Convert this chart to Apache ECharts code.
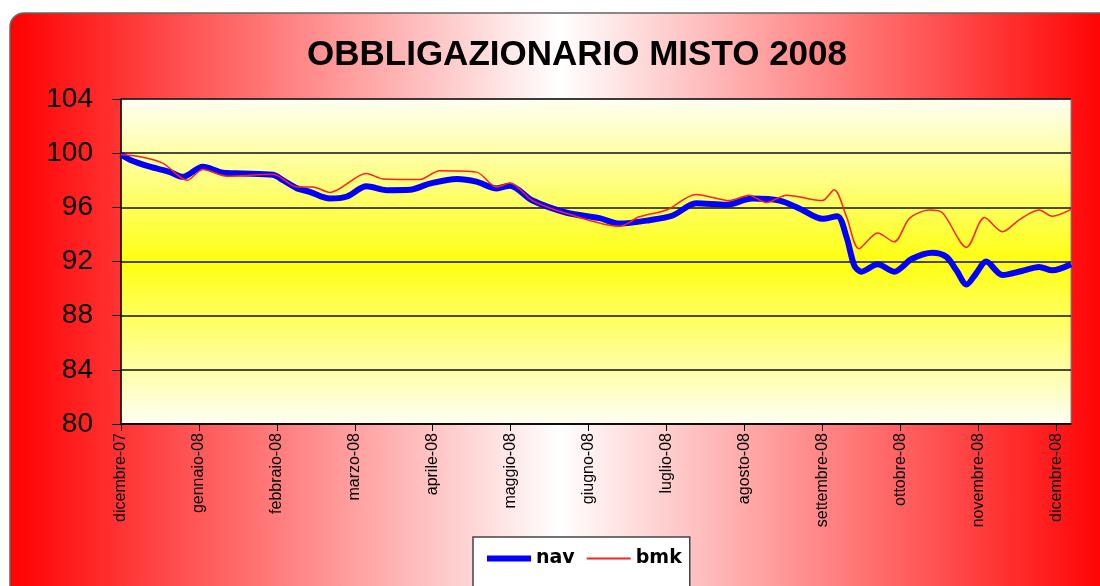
<!DOCTYPE html>
<html lang="it">
<head>
    <meta charset="UTF-8">
    <title>Obbligazionario Misto 2008</title>
    <script src="https://cdn.jsdelivr.net/npm/echarts@6/dist/echarts.min.js"></script>
    <style>
        html, body { margin: 0; padding: 0; background: #fff; }
        #fig1 { width: 1100px; height: 586px; }
    </style>
</head>
<body>
    <div id="fig1"></div>
    <script>
        // etichette mesi (asse x)
        let mesi = ['dicembre-07', 'gennaio-08', 'febbraio-08', 'marzo-08', 'aprile-08', 'maggio-08',
            'giugno-08', 'luglio-08', 'agosto-08', 'settembre-08', 'ottobre-08', 'novembre-08', 'dicembre-08'];

        // nav: posizione in mesi da dic-07, valore
        let navX = [0, 0.12, 0.37, 0.63, 0.79, 1.05, 1.31, 1.56, 1.95, 2.08, 2.26, 2.42, 2.68, 2.90,
            3.15, 3.41, 3.71, 3.96, 4.31, 4.56, 4.82, 4.99, 5.28, 5.72, 6.14, 6.40, 6.78, 7.08, 7.38,
            7.77, 8.10, 8.45, 8.71, 9.00, 9.19, 9.31, 9.41, 9.50, 9.71, 9.92, 10.15, 10.41, 10.59,
            10.72, 10.85, 10.97, 11.10, 11.31, 11.56, 11.78, 11.95, 12.19];
        let navY = [99.9, 99.5, 99.0, 98.6, 98.25, 99.0, 98.55, 98.5, 98.4, 98.0, 97.4, 97.15, 96.65, 96.8,
            97.55, 97.27, 97.3, 97.75, 98.1, 97.9, 97.4, 97.6, 96.5, 95.6, 95.2, 94.8, 95.05, 95.4, 96.3,
            96.2, 96.65, 96.5, 95.9, 95.15, 95.35, 93.8, 91.7, 91.25, 91.8, 91.25, 92.2, 92.65, 92.35,
            91.35, 90.3, 91.1, 92.0, 91.0, 91.3, 91.6, 91.35, 91.8];

        // bmk
        let bmkX = [0, 0.28, 0.54, 0.85, 1.05, 1.36, 1.95, 2.26, 2.46, 2.68, 3.15, 3.36, 3.83, 4.09,
            4.56, 4.82, 4.99, 5.28, 5.72, 6.40, 6.65, 7.00, 7.38, 7.81, 8.06, 8.28, 8.54, 9.00, 9.15,
            9.31, 9.47, 9.71, 9.92, 10.12, 10.37, 10.54, 10.85, 11.08, 11.31, 11.53, 11.78, 11.95, 12.19];
        let bmkY = [99.9, 99.7, 99.25, 98.0, 98.8, 98.3, 98.45, 97.5, 97.5, 97.1, 98.5, 98.1, 98.05, 98.7,
            98.6, 97.5, 97.8, 96.5, 95.55, 94.6, 95.3, 95.8, 96.95, 96.5, 96.9, 96.35, 96.9, 96.5, 97.3,
            95.3, 92.95, 94.1, 93.45, 95.2, 95.8, 95.6, 93.05, 95.25, 94.2, 95.1, 95.8, 95.35, 95.85];

        let yTicks = [80, 84, 88, 92, 96, 100, 104];

        function coppie (xs, ys) {
            return xs.map((x, i) => [x, ys[i]]);
        }

        let fig1 = echarts.init(document.getElementById('fig1'), null, {renderer: 'canvas'});

        let option = {
            animation: false,
            backgroundColor: '#fff',
            textStyle: { fontFamily: 'Liberation Sans, Arial, sans-serif' },
            graphic: [{
                type: 'rect',
                z: -10,
                silent: true,
                shape: { x: 10, y: 13, width: 1100, height: 590, r: [14, 0, 0, 0] },
                style: {
                    fill: new echarts.graphic.LinearGradient(0, 0, 1, 0, [
                        { offset: 0, color: '#ff0000' },
                        { offset: 0.5, color: '#ffffff' },
                        { offset: 1, color: '#ff0000' }
                    ]),
                    stroke: '#666',
                    lineWidth: 1.5
                }
            }],
            title: {
                text: 'OBBLIGAZIONARIO MISTO 2008',
                left: 572,
                textAlign: 'center',
                top: 33,
                textStyle: {
                    fontSize: 35,
                    fontWeight: 'bold',
                    color: '#000',
                    fontFamily: 'Liberation Sans, Arial, sans-serif'
                }
            },
            grid: {
                left: 121,
                right: 29,
                top: 99,
                bottom: 162,
                show: true,
                borderColor: '#808080',
                borderWidth: 1,
                backgroundColor: new echarts.graphic.LinearGradient(0, 0, 0, 1, [
                    { offset: 0, color: '#fffff4' },
                    { offset: 0.5, color: '#ffff10' },
                    { offset: 1, color: '#fffff4' }
                ])
            },
            legend: {
                left: 473,
                top: 537,
                data: [
                    { name: 'nav', icon: 'path://M0,0H44V6H0Z' },
                    { name: 'bmk', icon: 'path://M0,0H44V2H0Z' }
                ],
                itemWidth: 44,
                itemHeight: 14,
                itemGap: 12,
                backgroundColor: '#fff',
                borderColor: '#444',
                borderWidth: 1.5,
                padding: [12, 8, 30, 14],
                textStyle: {
                    fontSize: 19,
                    fontWeight: 'bold',
                    color: '#000',
                    fontFamily: 'DejaVu Sans, sans-serif'
                }
            },
            xAxis: {
                type: 'value',
                min: 0,
                max: 12.19,
                interval: 1,
                splitLine: { show: false },
                axisLine: { show: true, onZero: false, lineStyle: { color: '#000', width: 1.5 } },
                axisTick: { show: true, inside: false, length: 7, lineStyle: { color: '#000' } },
                axisLabel: {
                    rotate: 90,
                    margin: 9,
                    fontSize: 16,
                    color: '#000',
                    showMaxLabel: false,
                    formatter: function (v) {
                        return Number.isInteger(v) ? (mesi[v] || '') : '';
                    }
                }
            },
            yAxis: {
                type: 'value',
                min: yTicks[0],
                max: yTicks[yTicks.length - 1],
                interval: 4,
                axisLine: { show: true, lineStyle: { color: '#000', width: 1.5 } },
                axisTick: { show: true, length: 9, lineStyle: { color: '#000' } },
                axisLabel: {
                    fontSize: 28,
                    color: '#000',
                    margin: 28
                },
                splitLine: { show: true, lineStyle: { color: '#111', width: 1.5 } }
            },
            series: [
                {
                    name: 'nav',
                    type: 'line',
                    data: coppie(navX, navY),
                    smooth: 0.3,
                    symbol: 'none',
                    z: 3,
                    color: '#0000ff',
                    lineStyle: { color: '#0000ff', width: 6 }
                },
                {
                    name: 'bmk',
                    type: 'line',
                    data: coppie(bmkX, bmkY),
                    smooth: 0.3,
                    symbol: 'none',
                    z: 4,
                    color: '#ff2020',
                    lineStyle: { color: '#ff2020', width: 1.5 }
                }
            ]
        };

        fig1.setOption(option);
    </script>
</body>
</html>
